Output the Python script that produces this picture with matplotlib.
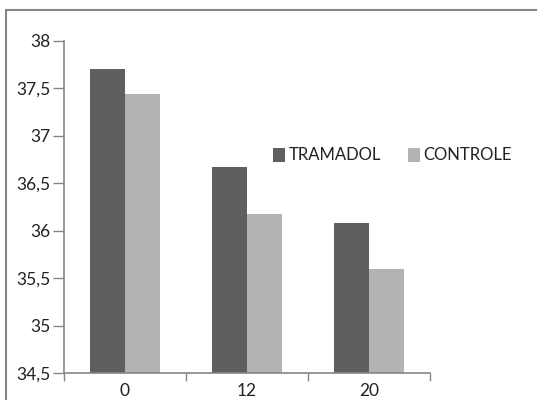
import matplotlib

matplotlib.use("Agg")
import matplotlib.pyplot as plt
import numpy as np
from matplotlib.patches import Rectangle
from matplotlib.ticker import FixedLocator, FuncFormatter

# Temperatura média por tempo (min) em cada grupo.
tempos = ["0", "12", "20"]
tramadol = [37.70, 36.67, 36.08]
controle = [37.44, 36.17, 35.60]
series = ["TRAMADOL", "CONTROLE"]
cores = ["#5f5f5f", "#b3b3b3"]

plt.rcParams["font.family"] = ["Lato", "DejaVu Sans"]

fig = plt.figure(figsize=(5.37, 4.0), dpi=100)
ax = fig.add_axes([64 / 537, 1 - 373 / 400, 366 / 537, 332.3 / 400])

x = np.arange(len(tempos))
w = 0.29
ax.bar(x - w / 2, tramadol, w, color=cores[0], label=series[0], zorder=2)
ax.bar(x + w / 2, controle, w, color=cores[1], label=series[1], zorder=2)

ax.set_ylim(34.5, 38)
ax.set_xlim(-0.5, len(tempos) - 0.5)
ax.set_yticks(np.arange(34.5, 38.01, 0.5))
ax.yaxis.set_major_formatter(FuncFormatter(lambda v, _: f"{v:g}".replace(".", ",")))
ax.set_xticks(x)
ax.set_xticklabels(tempos)
ax.xaxis.set_minor_locator(FixedLocator(np.arange(-0.5, len(tempos), 1.0)))
ax.tick_params(axis="x", which="major", length=0, pad=7, labelsize=12.5, colors="#222222")
ax.tick_params(axis="x", which="minor", length=6, width=1, color="#868686")
ax.tick_params(axis="y", length=8, width=1, color="#868686", labelsize=12.5,
               labelcolor="#222222", pad=2)

for lado in ("top", "right"):
    ax.spines[lado].set_visible(False)
for lado in ("left", "bottom"):
    ax.spines[lado].set_color("#868686")
    ax.spines[lado].set_linewidth(1.2)

leg = ax.legend(loc="center left", bbox_to_anchor=(0.53, 0.655), ncol=2, frameon=False,
                fontsize=12, handlelength=0.7, handleheight=0.9, handletextpad=0.25,
                columnspacing=1.6)
for txt in leg.get_texts():
    txt.set_color("#222222")

# moldura da área do gráfico
fig.patches.append(Rectangle((6 / 537, -0.05), 1.1, 1 - 10 / 400 + 0.05,
                             transform=fig.transFigure, fill=False,
                             edgecolor="#868686", linewidth=1.5))

fig.savefig("out.png", dpi=100)
